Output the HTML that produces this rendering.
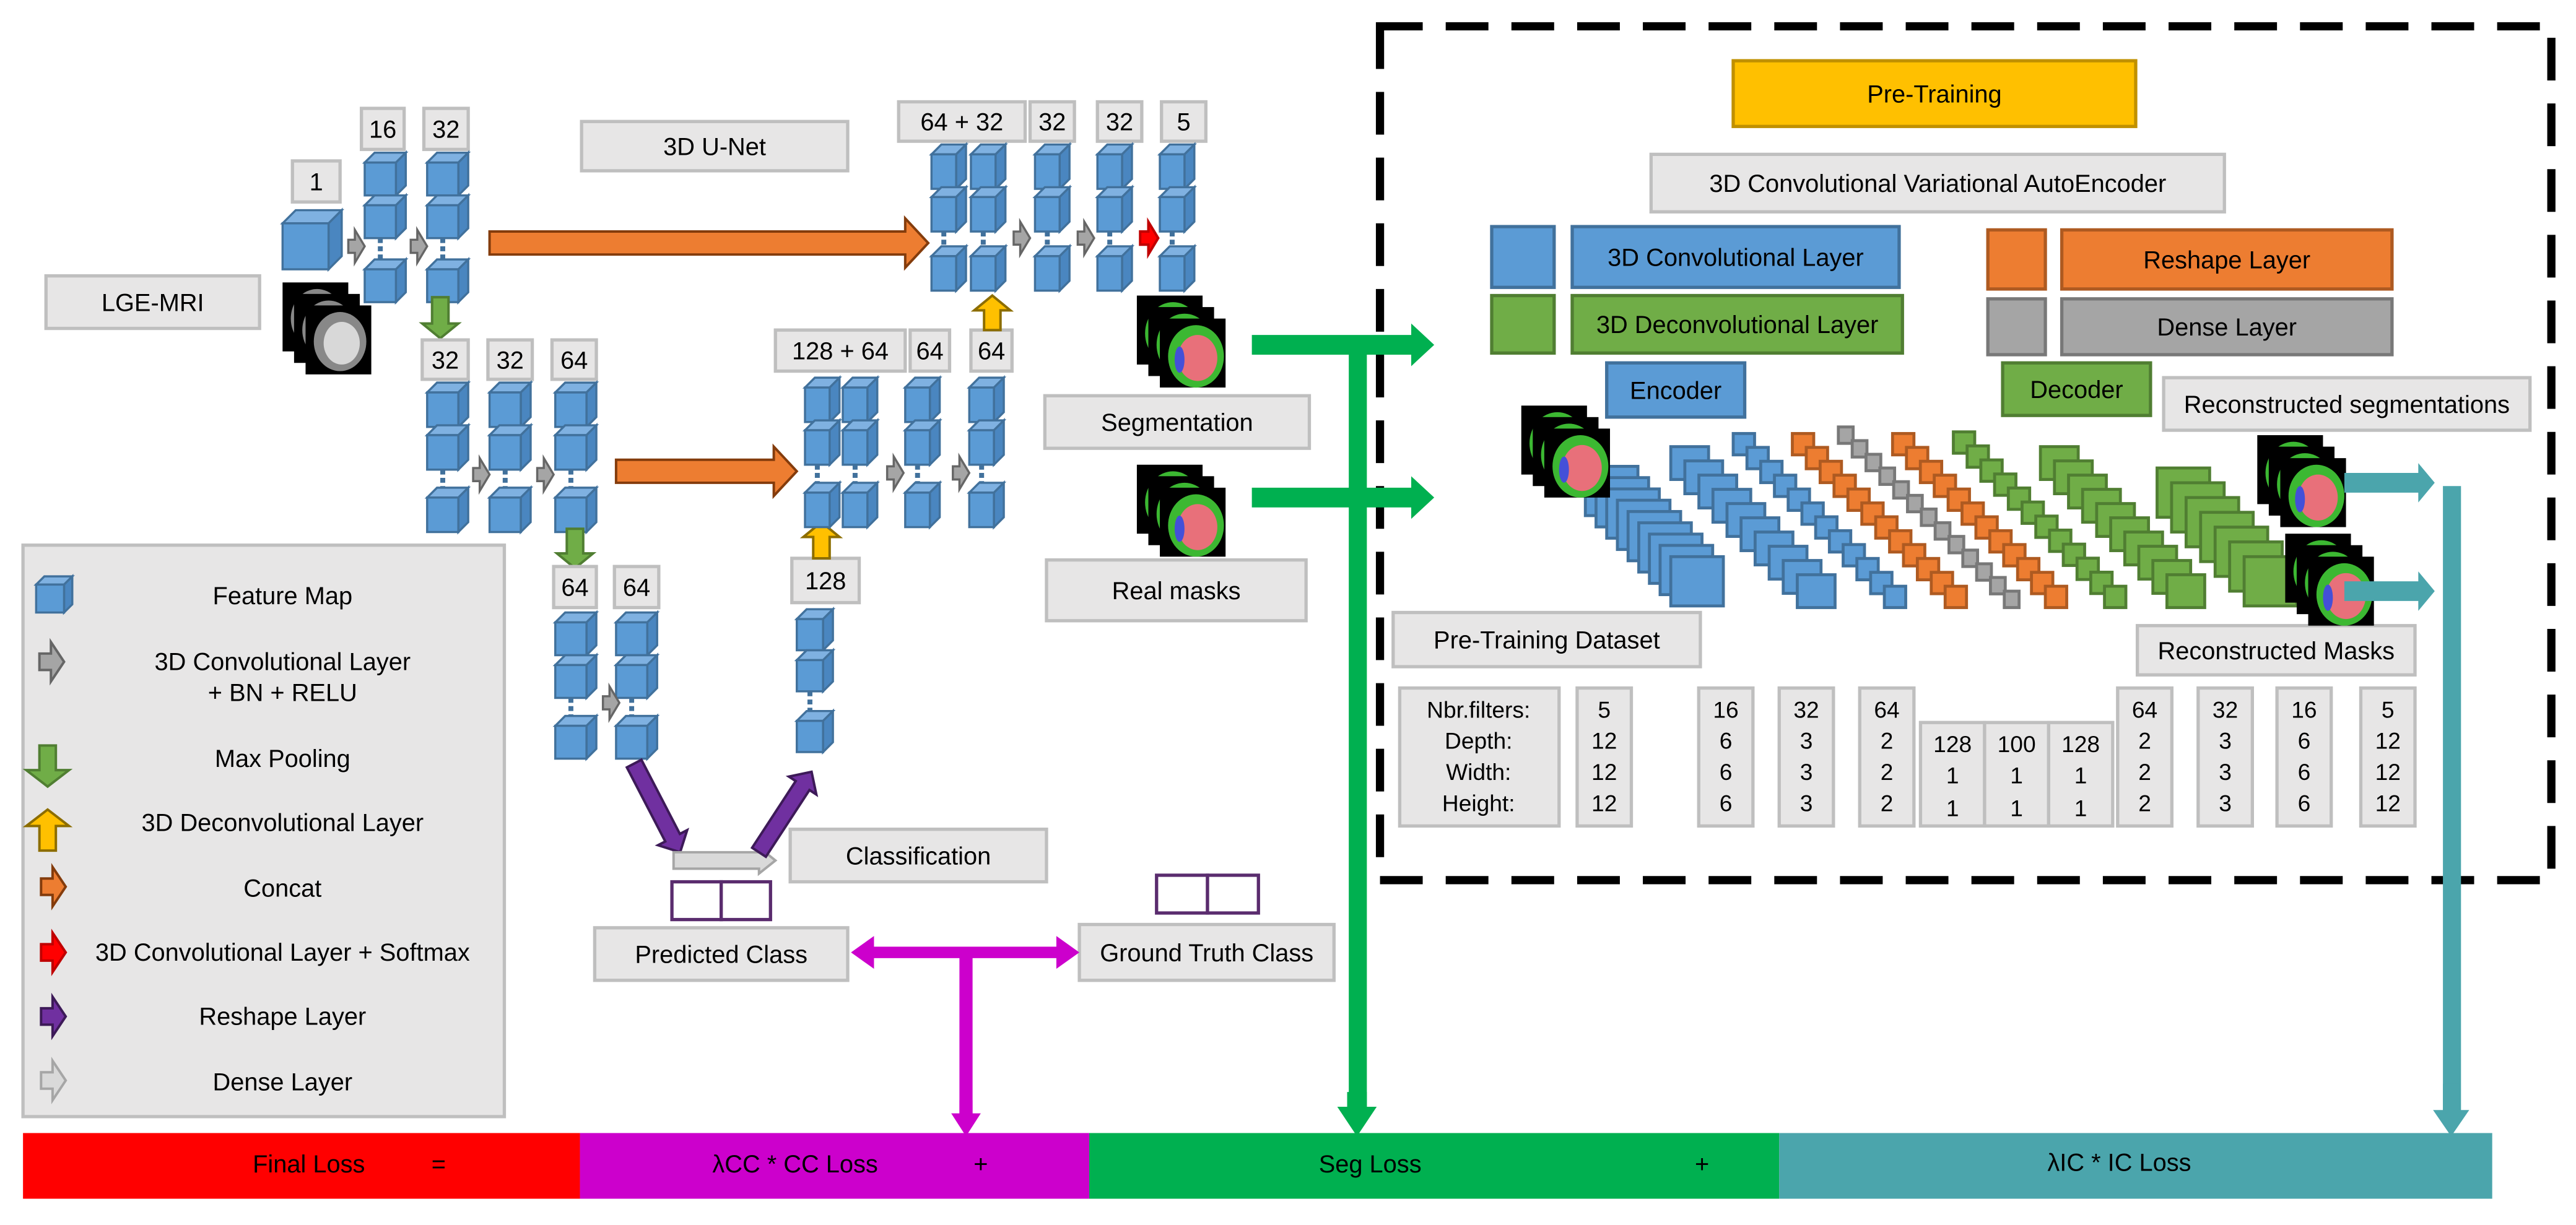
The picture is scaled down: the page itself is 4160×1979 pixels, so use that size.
<!DOCTYPE html>
<html><head><meta charset="utf-8"><style>
html,body{margin:0;padding:0;background:#fff;width:4160px;height:1979px;overflow:hidden}
svg{display:block}
text{font-family:"Liberation Sans",Arial,sans-serif;fill:#000}
</style></head><body>
<svg id="s" width="4160" height="1979" viewBox="0 0 1568 746" preserveAspectRatio="none" xmlns="http://www.w3.org/2000/svg"></svg>
<script>
var S=document.getElementById('s');var o='';
function box(x,y,w,h,t,fill,stroke,fs,tx){fill=fill||'#E7E6E6';stroke=stroke||'#BFBFBF';fs=fs||15;
o+='<rect x="'+x+'" y="'+y+'" width="'+w+'" height="'+h+'" fill="'+fill+'" stroke="'+stroke+'" stroke-width="2"/>';
if(t!==undefined&&t!=='')o+='<text x="'+(tx||x+w/2)+'" y="'+(y+h/2+fs*0.36)+'" font-size="'+fs+'" text-anchor="middle">'+t+'</text>';}
function txt(x,y,t,fs,anc){o+='<text x="'+x+'" y="'+y+'" font-size="'+(fs||15)+'" text-anchor="'+(anc||'middle')+'">'+t+'</text>';}
function cube(x,y,w,h,d){d=d||6;
o+='<polygon points="'+x+','+(y+d)+' '+(x+d)+','+y+' '+(x+w)+','+y+' '+(x+w-d)+','+(y+d)+'" fill="#7FB1E1" stroke="#41719C" stroke-width="1.3"/>';
o+='<polygon points="'+(x+w-d)+','+(y+d)+' '+(x+w)+','+y+' '+(x+w)+','+(y+h-d)+' '+(x+w-d)+','+(y+h)+'" fill="#4A86C0" stroke="#41719C" stroke-width="1.3"/>';
o+='<rect x="'+x+'" y="'+(y+d)+'" width="'+(w-d)+'" height="'+(h-d)+'" fill="#5B9BD5" stroke="#41719C" stroke-width="1.3"/>';}
function col(x,w,ys,h){cube(x,ys[0],w,h);cube(x,ys[1],w,h);
var cx=x+(w-6)/2;o+='<line x1="'+cx+'" y1="'+(ys[1]+h)+'" x2="'+cx+'" y2="'+(ys[2]+6)+'" stroke="#41719C" stroke-width="3" stroke-dasharray="3,2"/>';cube(x,ys[2],w,h);}
function arrow(x1,y1,x2,y2,sh,hh,hl,fill,stroke,sw){var dx=x2-x1,dy=y2-y1,L=Math.sqrt(dx*dx+dy*dy),a=Math.atan2(dy,dx)*180/Math.PI;
var p=[[0,-sh],[L-hl,-sh],[L-hl,-hh],[L,0],[L-hl,hh],[L-hl,sh],[0,sh]].map(function(q){return q[0]+','+q[1]}).join(' ');
o+='<polygon transform="translate('+x1+','+y1+') rotate('+a+')" points="'+p+'" fill="'+fill+'" stroke="'+(stroke||'none')+'" stroke-width="'+(sw||1.5)+'"/>';}
function gray(x,y){arrow(x,y,x+10,y,4,10,6,'#A5A5A5','#666',1.3);}
function mri(x,y,seg){for(var i=0;i<3;i++){var X=x+i*7,Y=y+i*7;o+='<rect x="'+X+'" y="'+Y+'" width="40" height="42" fill="#000"/>';
if(seg){o+='<ellipse cx="'+(X+22)+'" cy="'+(Y+23)+'" rx="17" ry="19" fill="#3CB832"/><ellipse cx="'+(X+23)+'" cy="'+(Y+24)+'" rx="12" ry="14" fill="#E8707A"/><ellipse cx="'+(X+12)+'" cy="'+(Y+25)+'" rx="3" ry="8" fill="#4450D8"/>';}
else{o+='<ellipse cx="'+(X+21)+'" cy="'+(Y+22)+'" rx="16" ry="18" fill="#888"/><ellipse cx="'+(X+22)+'" cy="'+(Y+23)+'" rx="11" ry="13" fill="#D8D8D8"/>';}}}
function stack(x0,y0,x1,y1,n,sz,szy,fill,stroke){for(var i=0;i<n;i++){var x=x0+(x1-x0)*i/(n-1),y=y0+(y1-y0)*i/(n-1);
o+='<rect x="'+x+'" y="'+y+'" width="'+sz+'" height="'+szy+'" fill="'+fill+'" stroke="'+stroke+'" stroke-width="1.8"/>';}}
var B='#5B9BD5',BS='#41719C',G='#70AD47',GS='#507E32',O='#ED7D31',OS='#AE5A21',GR='#A5A5A5',GRS='#787878';

// loss bar
o+='<rect x="14" y="690" width="339" height="40" fill="#FF0000"/><rect x="353" y="690" width="310" height="40" fill="#CC00CC"/><rect x="663" y="690" width="420" height="40" fill="#00B050"/><rect x="1083" y="690" width="434" height="40" fill="#4BA5AC"/>';
txt(188,714,'Final Loss');txt(267,714,'=');txt(484,714,'λCC * CC Loss');txt(597,714,'+');txt(834,714,'Seg Loss');txt(1036,714,'+');txt(1290,713,'λIC * IC Loss');

// dashed box
o+='<rect x="840" y="16" width="713" height="520" fill="none" stroke="#000" stroke-width="5" stroke-dasharray="26,14"/>';
box(1055,37,245,40,'Pre-Training','#FFC000','#C09000');
box(1005,94,349,35,'3D Convolutional Variational AutoEncoder');
box(908,138,38,37,'',B,BS);box(957,138,199,37,'3D Convolutional Layer',B,BS);
box(908,180,38,35,'',G,GS);box(957,180,201,35,'3D Deconvolutional Layer',G,GS);
box(1210,140,35,36,'',O,OS);box(1255,140,201,36,'Reshape Layer',O,OS);
box(1210,182,35,34,'',GR,GRS);box(1255,182,201,34,'Dense Layer',GR,GRS);
box(978,221,84,33,'Encoder',B,BS);box(1219,221,90,32,'Decoder',G,GS);
box(1317,230,223,32,'Reconstructed segmentations');
box(848,373,187,33,'Pre-Training Dataset');box(1301,381,169,30,'Reconstructed Masks');
// AE stacks
stack(965,284,1017,339,9,32,30,B,BS);
stack(1017,272,1094,350,10,23,20,B,BS);
stack(1055,264,1147,357,12,13,13,B,BS);
stack(1091,264,1184,357,12,13,13,O,OS);
stack(1119,260,1220,360,13,9,10,GR,GRS);
stack(1152,264,1245,357,12,13,13,O,OS);
stack(1189,263,1281,357,12,13,13,G,GS);
stack(1242,272,1319,350,10,23,20,G,GS);
stack(1313,285,1366,339,7,32,30,G,GS);
mri(926,247,true);mri(1374,265,true);mri(1391,325,true);
arrow(1427,294,1482,294,6,12,10,'#4BA5AC');arrow(1427,360,1482,360,6,12,10,'#4BA5AC');
o+='<rect x="1487" y="296" width="11" height="382" fill="#4BA5AC"/>';arrow(1492,660,1492,692,5,11,16,'#4BA5AC');
// table
box(852,419,97,84,'');var rl=['Nbr.filters:','Depth:','Width:','Height:'],ry=[437,456,475,494];
for(var i=0;i<4;i++)txt(900,ry[i],rl[i],14);
var cols=[[960,['5','12','12','12']],[1034,['16','6','6','6']],[1083,['32','3','3','3']],[1132,['64','2','2','2']],[1289,['64','2','2','2']],[1338,['32','3','3','3']],[1386,['16','6','6','6']],[1437,['5','12','12','12']]];
cols.forEach(function(c){box(c[0],419,33,84,'');for(var i=0;i<4;i++)txt(c[0]+16.5,ry[i],c[1][i],14);});
[[1169,'128'],[1208,'100'],[1247,'128']].forEach(function(c){box(c[0],440,39,63,'');txt(c[0]+19.5,458,c[1],14);txt(c[0]+19.5,477,'1',14);txt(c[0]+19.5,497,'1',14);});

// U-Net
box(354,74,162,30,'3D U-Net');box(28,168,130,32,'LGE-MRI');
mri(172,172,false);
box(178,98,29,25,'1');cube(172,128,36,36,8);
box(220,66,26,25,'16');box(258,66,27,25,'32');
col(222,25,[93,119,158],26);col(260,25,[93,119,158],26);
gray(212,150);gray(250,150);
arrow(268,181,268,206,5,11,9,G,GS);
box(257,207,28,24,'32');box(297,207,27,24,'32');box(336,207,27,24,'64');
col(260,25,[233,259,297],27);col(298,25,[233,259,297],27);col(338,25,[233,259,297],27);
gray(288,289);gray(327,289);
arrow(350,322,350,346,5,11,9,G,GS);
box(337,345,26,25,'64');box(374,345,27,25,'64');
col(338,25,[373,399,436],26);col(375,25,[373,399,436],26);
gray(367,428);
// bottom
arrow(386,465,414,519,5,10,10,'#7030A0','#3D1A58');
arrow(410,524,472,524,5,8,10,'#D9D9D9','#A6A6A6');
arrow(462,519,494,470,5,10,10,'#7030A0','#3D1A58');
box(481,505,156,32,'Classification');
o+='<rect x="409" y="537" width="30" height="23" fill="#fff" stroke="#5A2C6E" stroke-width="2"/><rect x="439" y="537" width="30" height="23" fill="#fff" stroke="#5A2C6E" stroke-width="2"/>';
o+='<rect x="704" y="533" width="31" height="23" fill="#fff" stroke="#5A2C6E" stroke-width="2"/><rect x="735" y="533" width="31" height="23" fill="#fff" stroke="#5A2C6E" stroke-width="2"/>';
box(362,565,154,32,'Predicted Class');box(657,563,155,34,'Ground Truth Class');
arrow(588,580,518,580,3.5,10,14,'#CC00CC');arrow(588,580,657,580,3.5,10,14,'#CC00CC');
o+='<rect x="584" y="580" width="8" height="100" fill="#CC00CC"/>';arrow(588,670,588,692,4,9,14,'#CC00CC');
// decoder
box(482,340,41,27,'128');arrow(500,340,500,318,5,11,9,'#FFC000','#8C6D00');
col(485,22,[371,396,433],25);
box(472,201,79,25,'128 + 64');box(554,201,24,25,'64');box(591,201,25,25,'64');
col(490,21,[230,256,294],27);col(513,21,[230,256,294],27);col(551,21,[230,256,294],27);col(590,21,[230,256,294],27);
gray(540,288);gray(580,288);
arrow(604,201,604,180,5,11,9,'#FFC000','#8C6D00');
arrow(375,287,485,287,7,15,14,O,'#843C0C');
box(547,62,77,24,'64 + 32');box(627,62,27,24,'32');box(668,62,27,24,'32');box(707,62,27,24,'5');
col(567,21,[88,114,150],27);col(591,21,[88,114,150],27);col(630,21,[88,114,150],27);col(668,21,[88,114,150],27);col(706,21,[88,114,150],27);
gray(617,145);gray(656,145);arrow(694,145,705,145,4,10,6,'#FF0000','#C00000');
arrow(298,148,565,148,7,15,14,O,'#843C0C');
mri(692,180,true);box(636,241,161,32,'Segmentation');
mri(692,283,true);box(637,341,158,37,'Real masks');
arrow(762,210,873,210,6,13,14,'#00B050');arrow(762,303,873,303,6,13,14,'#00B050');
o+='<rect x="821" y="210" width="11" height="470" fill="#00B050"/>';arrow(826,665,826,692,6,12,18,'#00B050');

// legend
box(14,332,293,348,'');
cube(22,351,22,22,5);txt(172,368,'Feature Map');
arrow(24,403,39,403,5,12,8,'#A5A5A5','#666');txt(172,408,'3D Convolutional Layer');txt(172,427,'+ BN + RELU');
arrow(29,454,29,479,5,13,10,G,GS);txt(172,467,'Max Pooling');
arrow(29,518,29,493,5,13,10,'#FFC000','#8C6D00');txt(172,506,'3D Deconvolutional Layer');
arrow(25,540,40,540,5,12,8,O,'#843C0C');txt(172,546,'Concat');
arrow(25,580,40,580,5,12,8,'#FF0000','#C00000');txt(172,585,'3D Convolutional Layer + Softmax');
arrow(25,619,40,619,5,12,8,'#7030A0','#3D1A58');txt(172,624,'Reshape Layer');
arrow(25,658,40,658,5,12,8,'#D9D9D9','#A6A6A6');txt(172,664,'Dense Layer');
S.innerHTML=o;
</script>
</body></html>
